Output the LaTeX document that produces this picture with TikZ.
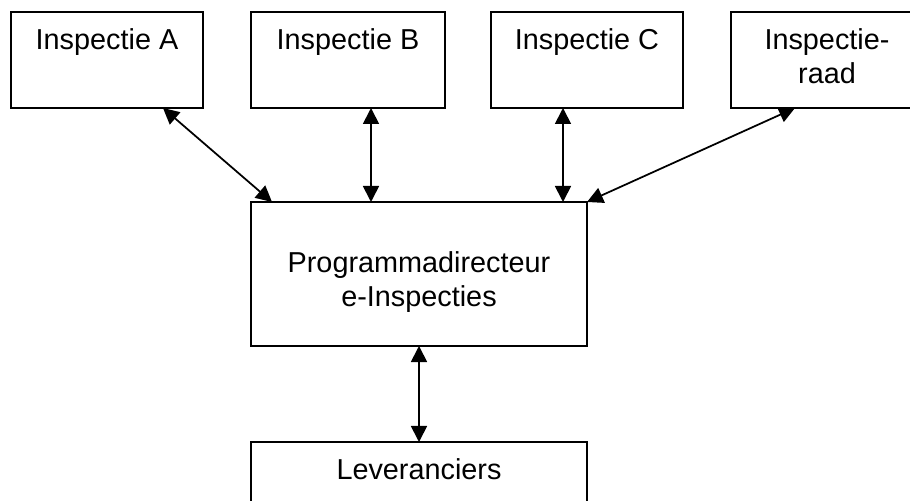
\documentclass[tikz,border=0pt]{standalone}
\usepackage{fontspec}
\setmainfont{Liberation Sans}
\usetikzlibrary{arrows.meta, positioning}

% text block set at the top of a box: width, height, baseline depth, text
\newcommand{\boxtext}[4]{\parbox[t][#2][t]{#1}{\centering\rule{0pt}{#3}#4}}

\begin{document}
\begin{tikzpicture}[
  orgbox/.style={rectangle, draw=black, line width=1.1pt, inner sep=0pt, outer sep=0pt, font=\fontsize{16.4}{19.3}\selectfont},
  link/.style={arrows={Triangle[length=0.32cm, width=0.32cm]-Triangle[length=0.32cm, width=0.32cm]}, line width=1pt}
]
  \useasboundingbox (0,0) rectangle (18.2,-10.02);
  \clip (0,0) rectangle (18.2,-10.02);

  % Inspecties (top row)
  \node[orgbox] (insp-a) at (2.14,-1.2) {\boxtext{3.84cm}{1.92cm}{0.76cm}{Inspectie A}};
  \node[orgbox, right=0.96cm of insp-a] (insp-b) {\boxtext{3.88cm}{1.92cm}{0.76cm}{Inspectie B}};
  \node[orgbox, right=0.92cm of insp-b] (insp-c) {\boxtext{3.84cm}{1.92cm}{0.76cm}{Inspectie C}};
  \node[orgbox, right=0.96cm of insp-c] (insp-raad) {\boxtext{3.84cm}{1.92cm}{0.76cm}{Inspectie-\\raad}};

  % Programme direction and suppliers
  \node[orgbox, below right=1.88cm and 0cm of insp-b.south west] (progdir) {\boxtext{6.72cm}{2.88cm}{1.42cm}{Programmadirecteur\\e-Inspecties}};
  \node[orgbox, below=1.92cm of progdir] (leveranciers) {\boxtext{6.72cm}{1.92cm}{0.76cm}{Leveranciers}};

  % Two-way links
  \draw[link] ([xshift=1.12cm]insp-a.south) -- ([xshift=-2.94cm]progdir.north);
  \draw[link] ([xshift=0.46cm]insp-b.south) -- ([xshift=-0.96cm]progdir.north);
  \draw[link] ([xshift=-0.48cm]insp-c.south) -- ([xshift=2.88cm]progdir.north);
  \draw[link] ([xshift=-0.64cm]insp-raad.south) -- (progdir.north east);
  \draw[link] (progdir) -- (leveranciers);
\end{tikzpicture}
\end{document}
